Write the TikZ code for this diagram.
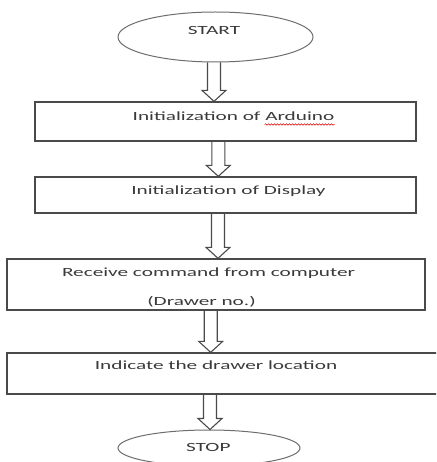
\documentclass[tikz,border=0pt]{standalone}
\usepackage{fontspec}
\setmainfont{Carlito}[FakeStretch=1.7]
\usetikzlibrary{calc,shapes.geometric,decorations.pathmorphing}
\definecolor{linec}{HTML}{4A4A4A}
\definecolor{ellc}{HTML}{6E6E6E}
\definecolor{txtc}{HTML}{3A3A3A}
\newcommand{\blockarrow}[2]{%
  \draw[barrow] ($(#1)+(-6.5,0)$) -- ($(#2)+(-6.5,-11)$) -- ($(#2)+(-12,-11)$) -- (#2)
    -- ($(#2)+(12,-11)$) -- ($(#2)+(6.5,-11)$) -- ($(#1)+(6.5,0)$);}
\begin{document}
\begin{tikzpicture}[x=1pt,y=-1pt,
  ellbox/.style={draw=ellc, line width=1pt, ellipse, inner sep=0pt},
  procbox/.style={draw=linec, line width=1.3pt, rectangle, inner sep=0pt},
  lbl/.style={text=txtc, font=\fontsize{12.5}{15}\selectfont, inner sep=0pt, anchor=base},
  barrow/.style={draw=linec, line width=1.1pt, line join=miter}]
\clip (0,0) rectangle (436,462);
\fill[white] (0,0) rectangle (436,462);

% shapes
\node[ellbox, minimum width=195pt, minimum height=50pt] (start) at (215.5,37) {};
\node[procbox, minimum width=381pt, minimum height=39pt] (b1) at (225.5,121.5) {};
\node[procbox, minimum width=381pt, minimum height=36pt] (b2) at (225.5,195) {};
\node[procbox, minimum width=418pt, minimum height=51pt] (b3) at (216,284.5) {};
\node[procbox, minimum width=460pt, minimum height=41pt] (b4) at (237,373.5) {};
\node[ellbox, minimum width=182pt, minimum height=36pt] (stop) at (209,448) {};

% texts
\node[lbl] (tstart) at (214,35) {START};
\node[lbl] (t1) at (233.5,121) {Initialization of Arduino};
\node[lbl] (t2) at (228.5,194) {Initialization of Display};
\node[lbl] (t3a) at (208.5,276) {Receive command from computer};
\node[lbl] (t3b) at (201.5,305) {(Drawer no.)};
\node[lbl] (t4) at (216,369) {Indicate the drawer location};
\node[lbl] (tstop) at (208.3,451) {STOP};

% spell-check squiggle
\draw[red!85!black, line width=0.5pt, decorate, decoration={snake, segment length=3pt, amplitude=0.7pt}]
  ($(t1.base east)+(-70,3.5)$) -- ($(t1.base east)+(0,3.5)$);

% arrow axes
\coordinate (x1) at (214,0);
\coordinate (x2) at (218.3,0);
\coordinate (x3) at (218,0);
\coordinate (x4) at (210.7,0);
\coordinate (x5) at (210,0);

\blockarrow{start.south -| x1}{b1.north -| x1}
\blockarrow{b1.south -| x2}{b2.north -| x2}
\blockarrow{b2.south -| x3}{b3.north -| x3}
\blockarrow{b3.south -| x4}{b4.north -| x4}
\blockarrow{b4.south -| x5}{stop.north -| x5}
\end{tikzpicture}
\end{document}
